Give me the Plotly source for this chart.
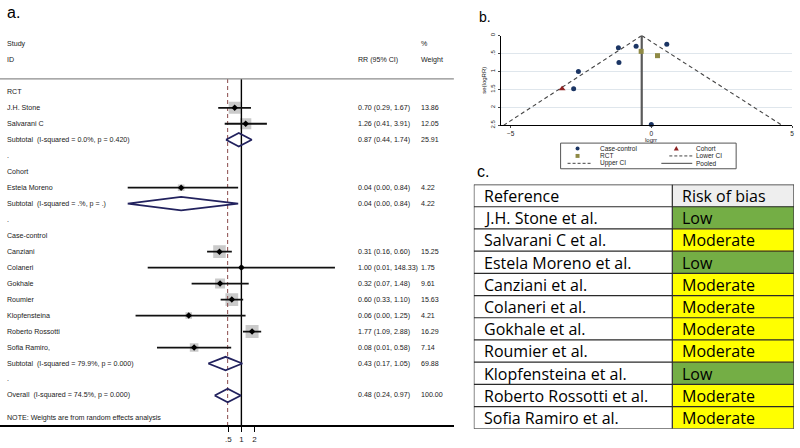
import plotly.graph_objects as go

W, H = 800, 448

# ---------------- (a) Forest plot data ----------------
study_names = ["J.H. Stone", "Salvarani C", "Estela Moreno", "Canziani", "Colaneri",
               "Gokhale", "Roumier", "Klopfensteina", "Roberto Rossotti", "Sofia Ramiro,"]
study_rows = [1, 2, 6, 10, 11, 12, 13, 14, 15, 16]
rr = [0.70, 1.26, 0.04, 0.31, 1.00, 0.32, 0.60, 0.06, 1.77, 0.08]
ci_lo = [0.29, 0.41, 0.0023, 0.16, 0.0067, 0.07, 0.33, 0.0035, 1.09, 0.011]
ci_hi = [1.67, 3.91, 0.84, 0.60, 148.33, 1.48, 1.10, 1.25, 2.88, 0.58]
weights = [13.86, 12.05, 4.22, 15.25, 1.75, 9.61, 15.63, 4.21, 16.29, 7.14]
rr_text = ["0.70 (0.29, 1.67)", "1.26 (0.41, 3.91)", "0.04 (0.00, 0.84)", "0.31 (0.16, 0.60)",
           "1.00 (0.01, 148.33)", "0.32 (0.07, 1.48)", "0.60 (0.33, 1.10)", "0.06 (0.00, 1.25)",
           "1.77 (1.09, 2.88)", "0.08 (0.01, 0.58)"]
weight_text = ["13.86", "12.05", "4.22", "15.25", "1.75", "9.61", "15.63", "4.21", "16.29", "7.14"]

group_labels = ["RCT", "Cohort", "Case-control"]
group_rows = [0, 5, 9]
spacer_rows = [4, 8, 18]

pooled_labels = ["Subtotal  (I-squared = 0.0%, p = 0.420)",
                 "Subtotal  (I-squared = .%, p = .)",
                 "Subtotal  (I-squared = 79.9%, p = 0.000)",
                 "Overall  (I-squared = 74.5%, p = 0.000)"]
pooled_rows = [3, 7, 17, 19]
pooled_est = [0.87, 0.04, 0.43, 0.48]
pooled_lo = [0.44, 0.0023, 0.17, 0.24]
pooled_hi = [1.74, 0.84, 1.05, 0.97]
pooled_rr_text = ["0.87 (0.44, 1.74)", "0.04 (0.00, 0.84)", "0.43 (0.17, 1.05)", "0.48 (0.24, 0.97)"]
pooled_weight_text = ["25.91", "4.22", "69.88", "100.00"]
overall_rr = 0.48

forest_ticks = [0.5, 1, 2]
forest_ticktext = [".5", "1", "2"]

# ---------------- (b) Funnel plot data ----------------
cc_logrr = [-1.17, 0.00, -1.15, -0.54, -2.76, 0.55, -2.59]
cc_se = [0.34, 2.48, 0.75, 0.30, 1.48, 0.24, 1.00]
rct_logrr = [-0.36, 0.22]
rct_se = [0.44, 0.56]
cohort_logrr = [-3.17]
cohort_se = [1.48]
funnel_pooled = -0.34
ci_se_ends = [0, 2.5]
lower_ci_x = [-0.34, -5.25]
upper_ci_x = [-0.34, 4.65]

# ---------------- (c) Risk of bias table ----------------
tbl_header = ["Reference", "Risk of bias"]
tbl_refs = ["J.H. Stone et al.", "Salvarani C et al.", "Estela Moreno et al.", "Canziani et al.",
            "Colaneri et al.", "Gokhale et al.", "Roumier et al.", "Klopfensteina et al.",
            "Roberto Rossotti et al.", "Sofia Ramiro et al."]
tbl_risk = ["Low", "Moderate", "Low", "Moderate", "Moderate", "Moderate", "Moderate",
            "Low", "Moderate", "Moderate"]
tbl_col_edges = [0, 199, 321]          # column widths in px units of the table axis
risk_codes = {"Low": 2, "Moderate": 3}  # 0 white, 1 header grey, 2 green, 3 yellow

# ------------------------------------------------------
FF = "Liberation Sans, Arial, sans-serif"
FS = 7.1
TXT = "#1a1a1a"


def px(x):
    return x / W


def py(y):
    return 1 - y / H


fig = go.Figure()

# weight boxes
fig.add_trace(go.Scatter(
    x=rr, y=study_rows, mode="markers", xaxis="x", yaxis="y",
    marker=dict(symbol="square", size=weights, sizemode="area", sizeref=0.1928,
                color="#b4b4b4", line=dict(width=0)),
    hoverinfo="skip", showlegend=False))

# reference line at 1 and overall dashed line
fig.add_trace(go.Scatter(x=[1, 1], y=[-0.8, 20.9], mode="lines", xaxis="x", yaxis="y",
                         line=dict(color="black", width=1.4), hoverinfo="skip", showlegend=False))
fig.add_trace(go.Scatter(x=[overall_rr, overall_rr], y=[-0.8, 20.9], mode="lines", xaxis="x", yaxis="y",
                         line=dict(color="#8a4a4a", width=1, dash="4px,3px"),
                         hoverinfo="skip", showlegend=False))

# CI lines
cx, cy = [], []
for lo, hi, r in zip(ci_lo, ci_hi, study_rows):
    cx += [lo, hi, None]
    cy += [r, r, None]
fig.add_trace(go.Scatter(x=cx, y=cy, mode="lines", xaxis="x", yaxis="y",
                         line=dict(color="#111111", width=1.8), hoverinfo="skip", showlegend=False))

# point estimates
fig.add_trace(go.Scatter(x=rr, y=study_rows, mode="markers", xaxis="x", yaxis="y",
                         marker=dict(symbol="diamond", size=5, color="black"),
                         hoverinfo="skip", showlegend=False))

# diamonds
dh = 0.42
dx, dy = [], []
for lo, est, hi, r in zip(pooled_lo, pooled_est, pooled_hi, pooled_rows):
    dx += [lo, est, hi, est, lo, None]
    dy += [r, r - dh, r, r + dh, r, None]
fig.add_trace(go.Scatter(x=dx, y=dy, mode="lines", xaxis="x", yaxis="y",
                         line=dict(color="#22225e", width=1.8), hoverinfo="skip", showlegend=False))

# ---- funnel ----
fig.add_trace(go.Scatter(x=lower_ci_x, y=ci_se_ends, mode="lines", xaxis="x2", yaxis="y2",
                         line=dict(color="#444444", width=1.1, dash="4px,3px"),
                         hoverinfo="skip", showlegend=False))
fig.add_trace(go.Scatter(x=upper_ci_x, y=ci_se_ends, mode="lines", xaxis="x2", yaxis="y2",
                         line=dict(color="#444444", width=1.1, dash="4px,3px"),
                         hoverinfo="skip", showlegend=False))
fig.add_trace(go.Scatter(x=[funnel_pooled, funnel_pooled], y=ci_se_ends, mode="lines",
                         xaxis="x2", yaxis="y2", line=dict(color="#5a5a5a", width=2.2),
                         hoverinfo="skip", showlegend=False))
fig.add_trace(go.Scatter(x=cc_logrr, y=cc_se, mode="markers", xaxis="x2", yaxis="y2",
                         marker=dict(symbol="circle", size=5, color="#1b3564"), cliponaxis=False,
                         hoverinfo="skip", showlegend=False))
fig.add_trace(go.Scatter(x=rct_logrr, y=rct_se, mode="markers", xaxis="x2", yaxis="y2",
                         marker=dict(symbol="square", size=5, color="#8f8a45"), cliponaxis=False,
                         hoverinfo="skip", showlegend=False))
fig.add_trace(go.Scatter(x=cohort_logrr, y=cohort_se, mode="markers", xaxis="x2", yaxis="y2",
                         marker=dict(symbol="triangle-up", size=6, color="#8e2222"), cliponaxis=False,
                         hoverinfo="skip", showlegend=False))

# ---- table (heatmap cells on its own axis) ----
n_rows = len(tbl_refs) + 1
z = [[0, 1]] + [[0, risk_codes[r]] for r in tbl_risk]
fig.add_trace(go.Heatmap(
    x=tbl_col_edges, y=list(range(n_rows + 1)), z=z, xaxis="x3", yaxis="y3",
    zmin=-0.5, zmax=3.5, showscale=False, hoverinfo="skip",
    colorscale=[[0, "#ffffff"], [0.25, "#ffffff"], [0.25, "#eeeeee"], [0.5, "#eeeeee"],
                [0.5, "#74ae45"], [0.75, "#74ae45"], [0.75, "#ffff00"], [1, "#ffff00"]]))

# ---------------- annotations ----------------
ann = []


def row_text(x, r, t, anchor="left", size=FS):
    ann.append(dict(x=px(x), y=r, xref="paper", yref="y", text=t, showarrow=False,
                    xanchor=anchor, yanchor="middle", borderpad=0,
                    font=dict(family=FF, size=size, color=TXT)))


RRX, WX = 358, 421
row_text(6, -3, "Study")
row_text(6, -2, "ID")
row_text(WX, -3, "%")
row_text(WX, -2, "Weight")
row_text(RRX, -2, "RR (95% CI)")
for t, r in zip(group_labels, group_rows):
    row_text(6, r, t)
for r in spacer_rows:
    row_text(6, r, ".")
for n, r, t, w in zip(study_names, study_rows, rr_text, weight_text):
    row_text(6, r, n)
    row_text(RRX, r, t)
    row_text(WX, r, w)
for n, r, t, w in zip(pooled_labels, pooled_rows, pooled_rr_text, pooled_weight_text):
    row_text(6, r, n)
    row_text(RRX, r, t)
    row_text(WX, r, w)
row_text(6, 20.43, "NOTE: Weights are from random effects analysis")

# table text
TFONT = dict(family="Open Sans, Lato, sans-serif", size=16, color="black")
col_a, col_b = tbl_col_edges[0] + 9, tbl_col_edges[1] + 9
for i, (a, b) in enumerate(zip([tbl_header[0]] + tbl_refs, [tbl_header[1]] + tbl_risk)):
    for xx, t in ((col_a, a), (col_b, b)):
        ann.append(dict(x=xx, y=i + 0.52, xref="x3", yref="y3", text=t, showarrow=False,
                        xanchor="left", yanchor="middle", borderpad=0, font=TFONT))

LBL = "Liberation Sans, Arial, sans-serif"
ann.append(dict(x=px(5), y=py(10), xref="paper", yref="paper", text="a.", showarrow=False,
                xanchor="left", yanchor="middle", font=dict(family=LBL, size=16, color="black")))
ann.append(dict(x=px(478), y=py(14), xref="paper", yref="paper", text="b.", showarrow=False,
                xanchor="left", yanchor="middle", font=dict(family=LBL, size=14, color="black")))
ann.append(dict(x=px(476), y=py(171), xref="paper", yref="paper", text="c.", showarrow=False,
                xanchor="left", yanchor="middle", font=dict(family=LBL, size=16, color="black")))

# funnel axis titles
ann.append(dict(x=px(485), y=py(78), xref="paper", yref="paper", text="se(logRR)", showarrow=False,
                textangle=-90, xanchor="center", yanchor="middle", borderpad=0,
                font=dict(family=LBL, size=6, color="#222")))
ann.append(dict(x=px(653), y=py(138.5), xref="paper", yref="paper", text="logrr", showarrow=False,
                xanchor="center", yanchor="middle", borderpad=0,
                font=dict(family=LBL, size=6, color="#222")))

shapes = []
# forest header rule
shapes.append(dict(type="line", xref="paper", yref="paper", x0=0, x1=px(455), y0=py(77), y1=py(77),
                   line=dict(color="#8c8c8c", width=1.2)))
# table borders (in table-axis units)
for k in range(n_rows + 1):
    shapes.append(dict(type="line", xref="x3", yref="y3", x0=tbl_col_edges[0], x1=tbl_col_edges[-1],
                       y0=k, y1=k, line=dict(color="#2a2a2a", width=1.2)))
for e in tbl_col_edges:
    shapes.append(dict(type="line", xref="x3", yref="y3", x0=e, x1=e, y0=0, y1=n_rows,
                       line=dict(color="#2a2a2a", width=1.2)))

# manual funnel legend
shapes.append(dict(type="rect", xref="paper", yref="paper", x0=px(562), x1=px(738), y0=py(168),
                   y1=py(142), line=dict(color="#555555", width=1), fillcolor="white"))
r1, r2, r3 = 147.5, 155, 162.5
shapes.append(dict(type="circle", xref="paper", yref="paper", x0=px(577), x1=px(581),
                   y0=py(r1 + 2), y1=py(r1 - 2), fillcolor="#1b3564", line=dict(width=0)))
shapes.append(dict(type="path", xref="paper", yref="paper",
                   path="M {:.5f},{:.5f} L {:.5f},{:.5f} L {:.5f},{:.5f} Z".format(
                       px(675.5), py(r1 + 2), px(680.5), py(r1 + 2), px(678), py(r1 - 2.5)),
                   fillcolor="#8e2222", line=dict(width=0)))
shapes.append(dict(type="rect", xref="paper", yref="paper", x0=px(577), x1=px(581),
                   y0=py(r2 + 2), y1=py(r2 - 2), fillcolor="#8f8a45", line=dict(width=0)))
shapes.append(dict(type="line", xref="paper", yref="paper", x0=px(671), x1=px(694),
                   y0=py(r2), y1=py(r2), line=dict(color="#444", width=1, dash="3px,2px")))
shapes.append(dict(type="line", xref="paper", yref="paper", x0=px(569), x1=px(594),
                   y0=py(r3), y1=py(r3), line=dict(color="#444", width=1, dash="3px,2px")))
shapes.append(dict(type="line", xref="paper", yref="paper", x0=px(663), x1=px(694),
                   y0=py(r3), y1=py(r3), line=dict(color="#444", width=1)))
for t, x, y in [("Case-control", 600, r1), ("Cohort", 697, r1), ("RCT", 600, r2),
                ("Lower CI", 697, r2), ("Upper CI", 600, r3), ("Pooled", 697, r3)]:
    ann.append(dict(x=px(x), y=py(y), xref="paper", yref="paper", text=t, showarrow=False,
                    xanchor="left", yanchor="middle", borderpad=0,
                    font=dict(family=LBL, size=6.5, color="#222")))

fig.update_layout(
    width=W, height=H, margin=dict(l=0, r=0, t=0, b=0, pad=0),
    paper_bgcolor="white", plot_bgcolor="white", showlegend=False,
    xaxis=dict(type="log", domain=[0, px(455)], range=[-5.602, 4.931], anchor="y",
               showgrid=False, zeroline=False, showline=True, linecolor="black", linewidth=1.5,
               ticks="outside", ticklen=5, tickwidth=1, tickcolor="black",
               tickvals=forest_ticks, ticktext=forest_ticktext,
               tickfont=dict(family=FF, size=8, color=TXT)),
    yaxis=dict(domain=[py(428), 1], range=[20.864, -5.556], visible=False, anchor="x"),
    xaxis2=dict(domain=[px(502), px(794)], range=[-5.35, 5.0], anchor="y2",
                showgrid=False, zeroline=False, showline=True, linecolor="black", linewidth=1,
                ticks="outside", ticklen=2, tickvals=[-5, 0, 5],
                tickfont=dict(family=LBL, size=6.5, color="#222")),
    yaxis2=dict(domain=[py(124), py(33)], range=[2.5, 0], anchor="x2",
                showgrid=True, gridcolor="#dfe6ec", gridwidth=1, zeroline=False,
                showline=True, linecolor="black", linewidth=1,
                ticks="outside", ticklen=2, tickvals=[0, 0.5, 1, 1.5, 2, 2.5],
                ticktext=["0", ".5", "1", "1.5", "2", "2.5"], tickangle=-90,
                tickfont=dict(family=LBL, size=6, color="#222")),
    xaxis3=dict(domain=[px(475), px(796)], range=[tbl_col_edges[0], tbl_col_edges[-1]],
                anchor="y3", visible=False, fixedrange=True),
    yaxis3=dict(domain=[py(431.5), py(184)], range=[n_rows, 0], anchor="x3",
                visible=False, fixedrange=True),
    annotations=ann, shapes=shapes,
)

fig.write_html("out.html", config={"displayModeBar": False},
               post_script="document.body.style.margin='0px';")
